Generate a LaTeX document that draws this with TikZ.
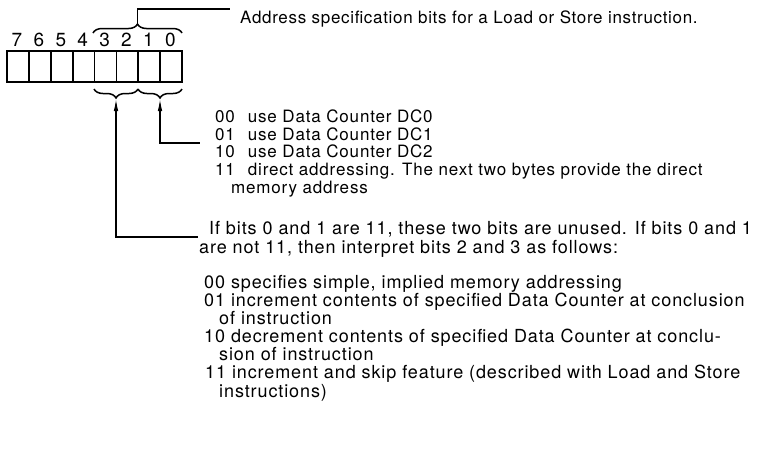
\documentclass[tikz,border=0pt]{standalone}
\usepackage{fontspec}
\setmainfont{TeX Gyre Heros}
\newfontfamily\topfont{TeX Gyre Heros}[LetterSpace=4]
\newfontfamily\upfont{TeX Gyre Heros}[LetterSpace=4.8]
\newfontfamily\lowfont{TeX Gyre Heros}[LetterSpace=5]
\usetikzlibrary{decorations.pathreplacing,arrows.meta}
\begin{document}
\begin{tikzpicture}[x=1pt,y=-1pt,
  ttxt/.style={anchor=base west, inner sep=0pt, font=\topfont\fontsize{17}{19}\selectfont},
  txt/.style={anchor=base west, inner sep=0pt, font=\upfont\fontsize{17}{19}\selectfont},
  ltxt/.style={anchor=base west, inner sep=0pt, font=\lowfont\fontsize{18}{20}\selectfont},
  bitlbl/.style={anchor=base, inner sep=0pt, font=\fontsize{19}{21}\selectfont},
  cell/.style={draw, line width=1.8pt, minimum width=21.9pt, minimum height=31pt, inner sep=0pt, anchor=north west},
  ln/.style={line width=1.5pt},
  arr/.style={line width=1.5pt, {Latex[length=13pt,width=4.5pt]}-},
  br/.style={line width=1.5pt, decorate, decoration={brace, amplitude=9pt}}]
\useasboundingbox (0,0) rectangle (763,451);
% register
\foreach \i/\b in {0/7,1/6,2/5,3/4,4/3,5/2,6/1,7/0}{
  \node[cell] (c\b) at ({6+21.9*\i},50) {};
  \node[bitlbl] (l\b) at ({17+21.9*\i},46) {\b};
}
% braces
\draw[br] (93,33) -- (182,33);
\draw[br] (138,89) -- (94,89);
\draw[br] (182,89) -- (138,89);
\coordinate (tipT) at (137.5,24);
\coordinate (endT) at (230,9);
\coordinate (tip1) at (116,98);
\coordinate (tip2) at (160,98);
\coordinate (end1) at (198,237);
\coordinate (end2) at (200,143);
\draw[ln] (tipT) |- (endT);
\draw[arr] (tip2) |- (end2);
\draw[arr] (tip1) |- (end1);
% texts
\node[ttxt] (addr) at (240,23) {Address specification bits for a Load or Store instruction.};
\node[txt] (a00) at (215,122) {00\hspace{13pt}use Data Counter DC0};
\node[txt] (a01) at (215,140) {01\hspace{13pt}use Data Counter DC1};
\node[txt] (a10) at (215,157) {10\hspace{13pt}use Data Counter DC2};
\node[txt] (a11) at (215,175) {11\hspace{13pt}direct addressing. The next two bytes provide the direct};
\node[txt] (a11b) at (231,193) {memory address};
\node[ltxt] (if1) at (209,234) {If bits 0 and 1 are 11, these two bits are unused. If bits 0 and 1};
\node[ltxt] (if2) at (199,253) {are not 11, then interpret bits 2 and 3 as follows:};
\node[ltxt] (b00) at (204,288) {00 specifies simple, implied memory addressing};
\node[ltxt] (b01) at (204,306) {01 increment contents of specified Data Counter at conclusion};
\node[ltxt] (b01b) at (219,324) {of instruction};
\node[ltxt] (b10) at (204,342) {10 decrement contents of specified Data Counter at conclu-};
\node[ltxt] (b10b) at (219,360) {sion of instruction};
\node[ltxt] (b11) at (205,378) {11 increment and skip feature (described with Load and Store};
\node[ltxt] (b11b) at (219,397) {instructions)};
\end{tikzpicture}
\end{document}
